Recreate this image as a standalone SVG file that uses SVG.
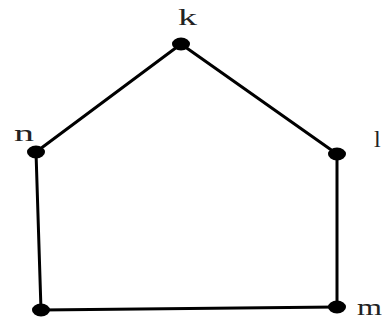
<svg xmlns="http://www.w3.org/2000/svg" width="385" height="322" viewBox="0 0 385 322">
<style>
.e{stroke:#000;stroke-width:3;fill:none;stroke-linecap:round}
.v{fill:#000}
.t{font-family:"Liberation Serif",serif;font-size:24px;fill:#222}
</style>
<rect width="385" height="322" fill="#fff"/>
<g id="edges">
<line class="e" x1="181" y1="44" x2="36" y2="152"/>
<line class="e" x1="181" y1="44" x2="337" y2="154"/>
<line class="e" x1="36" y1="152" x2="41" y2="310"/>
<line class="e" x1="337" y1="154" x2="337" y2="307"/>
<line class="e" x1="41" y1="310" x2="337" y2="307"/>
</g>
<g id="k"><ellipse class="v" cx="181" cy="44" rx="9" ry="6.5"/><text class="t" x="178" y="25" textLength="19" lengthAdjust="spacingAndGlyphs">k</text></g>
<g id="n"><ellipse class="v" cx="36" cy="152" rx="9" ry="6.5"/><text class="t" x="14" y="141" textLength="20" lengthAdjust="spacingAndGlyphs">n</text></g>
<g id="l"><ellipse class="v" cx="337" cy="154" rx="9" ry="6.5"/><text class="t" x="374" y="147">l</text></g>
<g id="o"><ellipse class="v" cx="41" cy="310" rx="9" ry="6.5"/></g>
<g id="m"><ellipse class="v" cx="337" cy="307" rx="9" ry="6.5"/><text class="t" x="357" y="315" textLength="25" lengthAdjust="spacingAndGlyphs">m</text></g>
</svg>
